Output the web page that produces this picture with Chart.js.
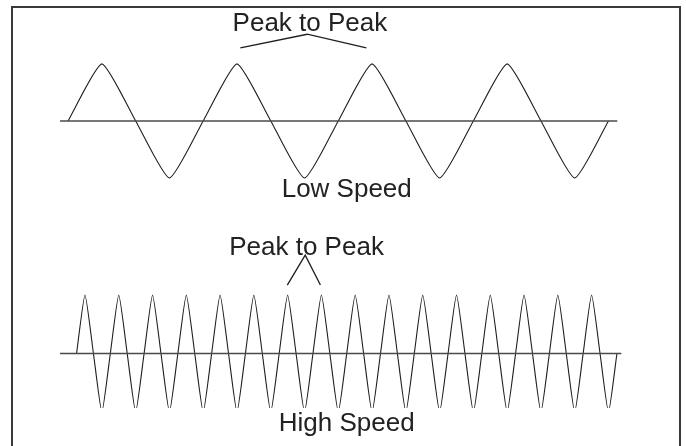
<!DOCTYPE html>
<html>
<head>
<meta charset="utf-8">
<script src="https://cdn.jsdelivr.net/npm/chart.js@4.4.1/dist/chart.umd.min.js"></script>
<style>
  body{margin:0;background:#fff;width:686px;height:446px;overflow:hidden;position:relative;}
  #frame{position:absolute;left:11px;top:6px;width:666px;height:460px;border:2px solid #3a3a3a;border-bottom:none;}
  canvas{position:absolute;}
  #lowchart{left:60px;top:0px;}
  #highchart{left:60px;top:210px;}
</style>
</head>
<body>
<div id="frame"></div>
<canvas id="lowchart" width="562" height="210"></canvas>
<canvas id="highchart" width="562" height="236"></canvas>
<script>
// time in ms, signal in relative amplitude
var lowTime=[0,5,10,15,20,25,30,35,40,45,50,55,60,65,70,75,80];
var lowSignal=[0,1,0,-1,0,1,0,-1,0,1,0,-1,0,1,0,-1,0];

var highTime=[1.25,2.5,3.75,5,6.25,7.5,8.75,10,11.25,12.5,13.75,15,16.25,17.5,18.75,20,
  21.25,22.5,23.75,25,26.25,27.5,28.75,30,31.25,32.5,33.75,35,36.25,37.5,38.75,40,
  41.25,42.5,43.75,45,46.25,47.5,48.75,50,51.25,52.5,53.75,55,56.25,57.5,58.75,60,
  61.25,62.5,63.75,65,66.25,67.5,68.75,70,71.25,72.5,73.75,75,76.25,77.5,78.75,80,81.25];
var highSignal=[0,1,0,-1,0,1,0,-1,0,1,0,-1,0,1,0,-1,
  0,1,0,-1,0,1,0,-1,0,1,0,-1,0,1,0,-1,
  0,1,0,-1,0,1,0,-1,0,1,0,-1,0,1,0,-1,
  0,1,0,-1,0,1,0,-1,0,1,0,-1,0,1,0,-1,0];

var lowAxisTime=[-1.2,81.3];
var highAxisTime=[-1.2,81.9];

// "peak to peak" pointer lines
var lowPointerTime=[25.5,35.4,44.15];
var lowPointerLevel=[1.28,1.52,1.28];
var highPointerTime=[32.45,35.1,37.35];
var highPointerLevel=[1.17,1.68,1.17];

var lowLabels=[{text:"Peak to Peak",x:35.8,y:1.575},{text:"Low Speed",x:41.25,y:-1.33}];
var highLabels=[{text:"Peak to Peak",x:35.3,y:1.68},{text:"High Speed",x:41.25,y:-1.325}];

function pts(xs,ys){
  return xs.map(function(x,i){return {x:x,y:ys[i]};});
}

var labelPlugin={
  id:'labels',
  afterDraw:function(chart){
    var ctx=chart.ctx;
    var xs=chart.scales.x, ys=chart.scales.y;
    ctx.save();
    ctx.font='26px "Liberation Sans", Arial, sans-serif';
    ctx.fillStyle='#222';
    ctx.textAlign='center';
    ctx.textBaseline='alphabetic';
    chart.options.plugins.labels.items.forEach(function(l){
      ctx.fillText(l.text,xs.getPixelForValue(l.x),ys.getPixelForValue(l.y));
    });
    ctx.restore();
  }
};

function makeChart(el,waveT,waveV,axisT,ptrT,ptrV,labels,ymin,ymax,padBottom){
  return new Chart(document.getElementById(el),{
    type:'line',
    data:{
      datasets:[{
        data:pts(axisT,[0,0]),
        borderColor:'#4a4a4a',
        borderWidth:1.6,
        tension:0
      },{
        data:pts(waveT,waveV),
        borderColor:'#1e1e1e',
        borderWidth:1.1,
        tension:0.17,
        clip:0
      },{
        data:pts(ptrT,ptrV),
        borderColor:'#1e1e1e',
        borderWidth:1.3,
        tension:0
      }]
    },
    options:{
      responsive:false,
      animation:false,
      events:[],
      layout:{padding:{left:0,right:0,top:0,bottom:padBottom}},
      elements:{point:{radius:0}},
      scales:{
        x:{type:'linear',min:-1.2,max:82,display:false},
        y:{type:'linear',min:ymin,max:ymax,display:false}
      },
      plugins:{
        legend:{display:false},
        tooltip:{enabled:false},
        labels:{items:labels}
      }
    },
    plugins:[labelPlugin]
  });
}

makeChart('lowchart',lowTime,lowSignal,lowAxisTime,lowPointerTime,lowPointerLevel,lowLabels,-1.56,2.12,0);
makeChart('highchart',highTime,highSignal,highAxisTime,highPointerTime,highPointerLevel,highLabels,-0.932,2.453,38);
</script>
</body>
</html>
